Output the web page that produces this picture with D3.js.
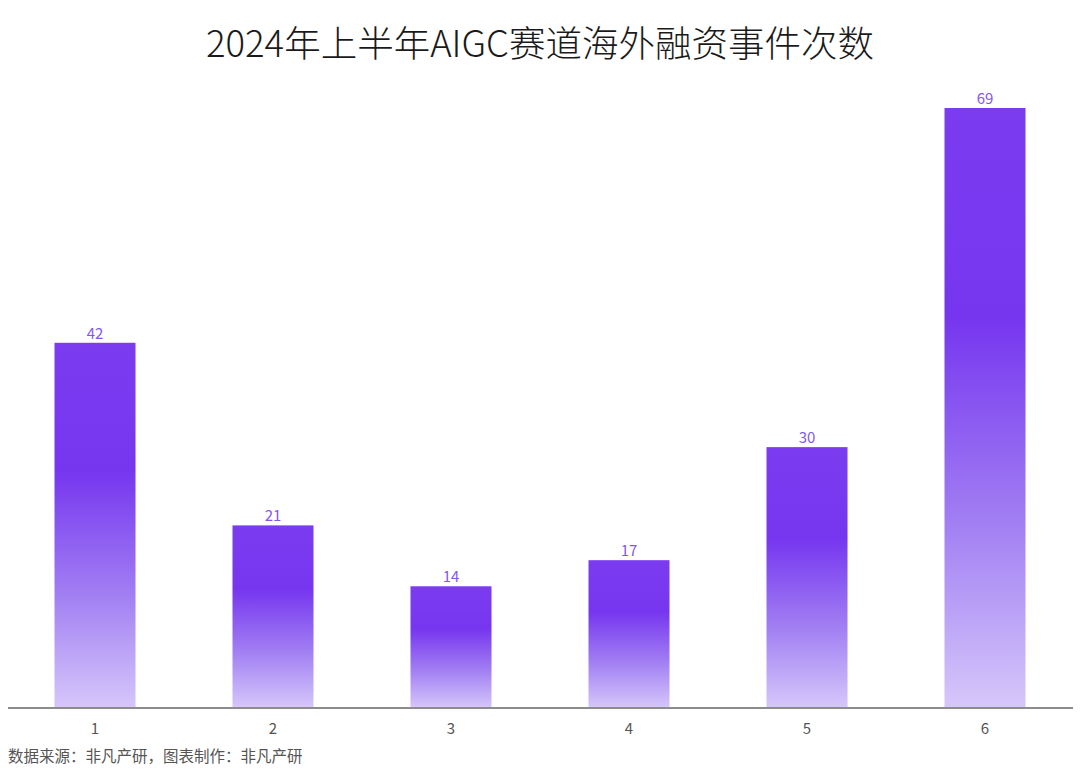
<!DOCTYPE html>
<html>
<head>
<meta charset="utf-8">
<script src="https://cdn.jsdelivr.net/npm/d3@7"></script>
<style>
  body { margin: 0; background: #fff; }
  text { font-family: "Noto Sans CJK SC", "Noto Sans", sans-serif; }
</style>
</head>
<body>
<div id="chart"></div>
<script>
// chart data
var categories = ["1", "2", "3", "4", "5", "6"];
var counts = [42, 21, 14, 17, 30, 69];
var titleText = "2024年上半年AIGC赛道海外融资事件次数";
var sourceText = "数据来源：非凡产研，图表制作：非凡产研";

var svgWidth = 1080;
var svgHeight = 775;

var svg = d3.select("#chart")
  .append("svg")
  .attr("width", svgWidth)
  .attr("height", svgHeight);

// gradient used by every bar
var grad = svg.append("defs").append("linearGradient")
  .attr("id", "barGrad")
  .attr("x1", 0).attr("y1", 0)
  .attr("x2", 0).attr("y2", 1);
grad.append("stop").attr("offset", "0%").attr("stop-color", "#7b3cf0");
grad.append("stop").attr("offset", "35%").attr("stop-color", "#7636ef");
grad.append("stop").attr("offset", "70%").attr("stop-color", "#a381f3");
grad.append("stop").attr("offset", "100%").attr("stop-color", "#d6c7fa");

var xScale = d3.scaleBand()
  .domain(categories)
  .range([6, 1074])
  .paddingInner(0.545)
  .paddingOuter(0.2725);

var yScale = d3.scaleLinear()
  .domain([0, 69])
  .range([708, 108]);

// title
svg.append("text")
  .attr("x", 540)
  .attr("y", 57)
  .attr("text-anchor", "middle")
  .attr("font-size", 36.5)
  .attr("font-weight", 300)
  .attr("fill", "#1a1a1a")
  .text(titleText);

// bars
svg.selectAll("rect.bar")
  .data(counts)
  .enter()
  .append("rect")
  .attr("class", "bar")
  .attr("x", (d, i) => xScale(categories[i]))
  .attr("y", d => yScale(d))
  .attr("width", xScale.bandwidth())
  .attr("height", d => yScale(0) - yScale(d))
  .attr("fill", "url(#barGrad)");

// value labels
svg.selectAll("text.val")
  .data(counts)
  .enter()
  .append("text")
  .attr("class", "val")
  .attr("x", (d, i) => xScale(categories[i]) + xScale.bandwidth() / 2)
  .attr("y", d => yScale(d) - 4)
  .attr("text-anchor", "middle")
  .attr("font-size", 15)
  .attr("fill", "#8557ee")
  .text(d => d);

// x axis
var bottomAxis = d3.axisBottom(xScale).tickSize(0).tickPadding(15);
var axisG = svg.append("g")
  .attr("transform", "translate(0, 708)")
  .call(bottomAxis);
axisG.select(".domain")
  .attr("d", "M8,0H1073")
  .attr("stroke", "#8c8c8c")
  .attr("stroke-width", 2);
axisG.selectAll(".tick text")
  .attr("font-size", 15)
  .attr("fill", "#555")
  .attr("font-family", "\"Noto Sans\", sans-serif");

// source note
svg.append("text")
  .attr("x", 8)
  .attr("y", 762)
  .attr("font-size", 15.5)
  .attr("fill", "#555")
  .text(sourceText);
</script>
</body>
</html>
